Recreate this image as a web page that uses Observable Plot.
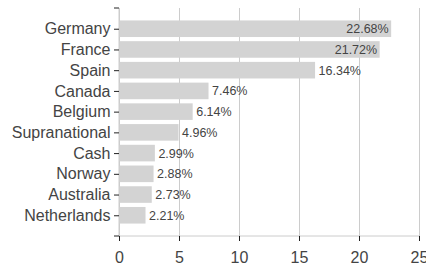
<!DOCTYPE html>
<html>
<head>
<meta charset="utf-8">
<script src="https://cdn.jsdelivr.net/npm/d3@7"></script>
<script src="https://cdn.jsdelivr.net/npm/@observablehq/plot@0.6"></script>
<style>
  html, body { margin: 0; padding: 0; background: #fff; }
  #chart svg { display: block; }
</style>
</head>
<body>
<div id="chart"></div>
<script>
const countries = ["Germany", "France", "Spain", "Canada", "Belgium", "Supranational", "Cash", "Norway", "Australia", "Netherlands"];
const weights = [22.68, 21.72, 16.34, 7.46, 6.14, 4.96, 2.99, 2.88, 2.73, 2.21];
const xTicks = [0, 5, 10, 15, 20, 25];
const insideThreshold = 20;

const data = countries.map((name, i) => ({name, value: weights[i]}));
const textColor = "#444";
const font = "Liberation Sans, Arial, sans-serif";

// domain lines + outer ticks in the style of a d3 axis, derived from scales
function axisDecor(index, scales, values, dim) {
  const x0 = scales.x(xTicks[0]);
  const x1 = scales.x(xTicks[xTicks.length - 1]);
  const y0 = dim.marginTop;
  const y1 = dim.height - dim.marginBottom;
  const g = d3.create("svg:g");
  g.append("line").attr("x1", x0).attr("x2", x1).attr("y1", y1).attr("y2", y1)
    .attr("stroke", "#ccc");
  g.append("line").attr("x1", x0).attr("x2", x0).attr("y1", y0).attr("y2", y1)
    .attr("stroke", "#ccc");
  for (const yy of [y0, y1]) {
    g.append("line").attr("x1", x0 - 5).attr("x2", x0).attr("y1", yy).attr("y2", yy)
      .attr("stroke", "#222");
  }
  return g.node();
}

const chart = Plot.plot({
  width: 426,
  height: 269,
  marginLeft: 119,
  marginRight: 7,
  marginTop: 8,
  marginBottom: 33,
  style: {fontFamily: font, color: textColor, background: "#fff"},
  x: {domain: [0, 25]},
  y: {domain: countries, paddingInner: 0.2, paddingOuter: 0.6, round: false},
  marks: [
    Plot.gridX(xTicks, {stroke: "#ccc", strokeOpacity: 1}),
    Plot.barX(data, {x: "value", y: "name", fill: "#d3d3d3"}),
    axisDecor,
    Plot.axisX(xTicks, {tickSize: 5, tickPadding: 10, fontSize: 16, stroke: "#222", fill: textColor, label: null}),
    Plot.axisY({tickSize: 5, tickPadding: 4, fontSize: 16, stroke: "#222", fill: textColor, label: null}),
    Plot.text(data.filter(d => d.value > insideThreshold), {
      x: "value", y: "name", text: d => d.value.toFixed(2) + "%",
      textAnchor: "end", dx: -3, fontSize: 12.5, fill: textColor
    }),
    Plot.text(data.filter(d => d.value <= insideThreshold), {
      x: "value", y: "name", text: d => d.value.toFixed(2) + "%",
      textAnchor: "start", dx: 3, fontSize: 12.5, fill: textColor
    })
  ]
});
document.getElementById("chart").appendChild(chart);
</script>
</body>
</html>
